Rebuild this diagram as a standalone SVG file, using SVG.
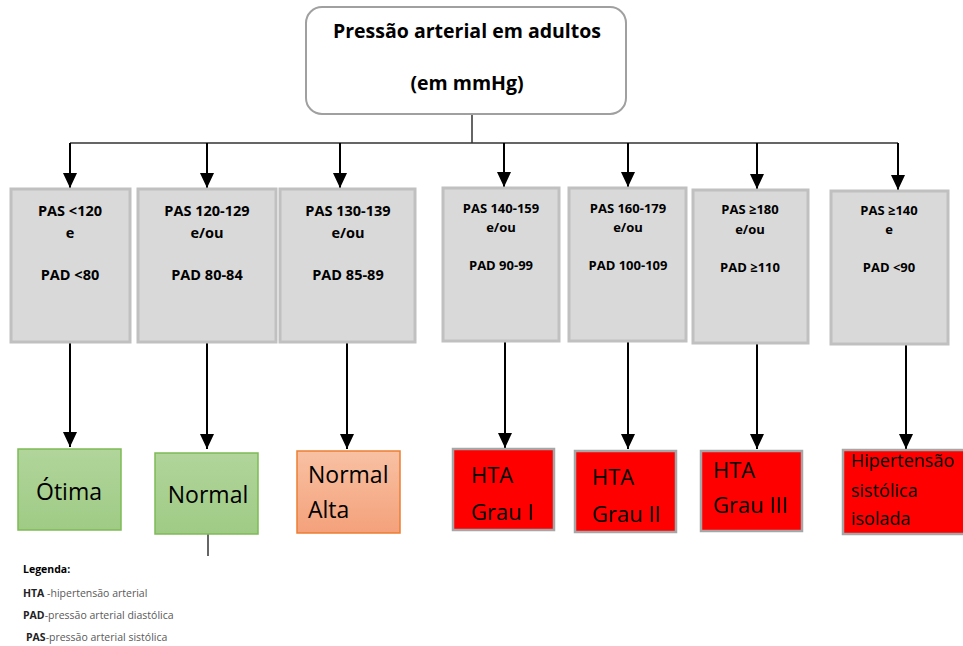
<svg xmlns="http://www.w3.org/2000/svg" width="963" height="646" viewBox="0 0 963 646">
<defs>
<marker id="ah" markerUnits="userSpaceOnUse" markerWidth="16" markerHeight="14" refX="15" refY="7" orient="auto" viewBox="0 0 16 14">
<path d="M0,0 L15,7 L0,14 Z" fill="#000"/>
</marker>
<linearGradient id="gGreen" x1="0" y1="0" x2="0" y2="1"><stop offset="0" stop-color="#b1d59b"/><stop offset="1" stop-color="#9fcb85"/></linearGradient>
<linearGradient id="gOrange" x1="0" y1="0" x2="0" y2="1"><stop offset="0" stop-color="#f8c1a3"/><stop offset="1" stop-color="#f4a17b"/></linearGradient>
<style>
.t{font-family:"Open Sans","Liberation Sans",sans-serif;fill:#000}
.b{font-weight:bold}
.gray{fill:#d9d9d9;stroke:#c0c0c0;stroke-width:3}
.red{fill:#ff0000;stroke:#a6a6a6;stroke-width:2.5}
.green{fill:url(#gGreen);stroke:#7dbb55;stroke-width:1.5}
.conn{stroke:#000;stroke-width:2;fill:none}
.bus{stroke:#333;stroke-width:1.5;fill:none}
.c{text-anchor:middle}
.s1{font-size:14.5px}
.s2{font-size:13px}
.big{font-size:23px}
.hta{font-size:22px}
.med{font-size:18px}
.leg{font-size:10.5px;fill:#595959}
</style>
</defs>
<rect width="963" height="646" fill="#fff"/>

<g id="root">
<rect x="306" y="7" width="320" height="107" rx="16" fill="#fff" stroke="#a0a0a0" stroke-width="2"/>
<text class="t b c" x="467" y="38" font-size="19.5">Pressão arterial em adultos</text>
<text class="t b c" x="467" y="90" font-size="19.5">(em mmHg)</text>
</g>

<g id="connectors">
<path class="bus" d="M472,115 V143 M70,143 H898"/>
<path class="conn" marker-end="url(#ah)" d="M70,143 V188"/>
<path class="conn" marker-end="url(#ah)" d="M207,143 V188"/>
<path class="conn" marker-end="url(#ah)" d="M340,143 V188"/>
<path class="conn" marker-end="url(#ah)" d="M504,143 V187"/>
<path class="conn" marker-end="url(#ah)" d="M628,143 V187"/>
<path class="conn" marker-end="url(#ah)" d="M757,143 V189"/>
<path class="conn" marker-end="url(#ah)" d="M898,143 V190"/>
<path class="conn" marker-end="url(#ah)" d="M70,343 V447"/>
<path class="conn" marker-end="url(#ah)" d="M207,343 V449"/>
<path class="conn" marker-end="url(#ah)" d="M347,343 V449"/>
<path class="conn" marker-end="url(#ah)" d="M505,342 V448"/>
<path class="conn" marker-end="url(#ah)" d="M628,342 V449"/>
<path class="conn" marker-end="url(#ah)" d="M757,343 V449"/>
<path class="conn" marker-end="url(#ah)" d="M906,342 V449"/>
<path d="M208,524 V556" stroke="#333" stroke-width="1.5"/>
</g>

<g id="c1">
<rect class="gray" x="11" y="189" width="119" height="153"/>
<text class="t b c s1" x="70" y="216">PAS &lt;120</text>
<text class="t b c s1" x="70" y="238">e</text>
<text class="t b c s1" x="70" y="280">PAD &lt;80</text>
</g>
<g id="c2">
<rect class="gray" x="138" y="189" width="138" height="153"/>
<text class="t b c s1" x="207" y="216">PAS 120-129</text>
<text class="t b c s1" x="207" y="238">e/ou</text>
<text class="t b c s1" x="207" y="280">PAD 80-84</text>
</g>
<g id="c3">
<rect class="gray" x="280" y="189" width="135" height="153"/>
<text class="t b c s1" x="348" y="216">PAS 130-139</text>
<text class="t b c s1" x="348" y="238">e/ou</text>
<text class="t b c s1" x="348" y="280">PAD 85-89</text>
</g>
<g id="c4">
<rect class="gray" x="443" y="188" width="116" height="153"/>
<text class="t b c s2" x="501" y="213">PAS 140-159</text>
<text class="t b c s2" x="501" y="232">e/ou</text>
<text class="t b c s2" x="501" y="270">PAD 90-99</text>
</g>
<g id="c5">
<rect class="gray" x="569" y="188" width="117" height="153"/>
<text class="t b c s2" x="628" y="213">PAS 160-179</text>
<text class="t b c s2" x="628" y="232">e/ou</text>
<text class="t b c s2" x="628" y="270">PAD 100-109</text>
</g>
<g id="c6">
<rect class="gray" x="693" y="190" width="115" height="153"/>
<text class="t b c s2" x="750" y="214">PAS ≥180</text>
<text class="t b c s2" x="750" y="234">e/ou</text>
<text class="t b c s2" x="750" y="272">PAD ≥110</text>
</g>
<g id="c7">
<rect class="gray" x="831" y="191" width="117" height="153"/>
<text class="t b c s2" x="889" y="215">PAS ≥140</text>
<text class="t b c s2" x="889" y="234">e</text>
<text class="t b c s2" x="889" y="272">PAD &lt;90</text>
</g>

<g id="otima">
<rect class="green" x="18" y="449" width="103" height="81"/>
<text class="t c big" x="69" y="500">Ótima</text>
</g>
<g id="normal">
<rect class="green" x="155" y="453" width="103" height="81"/>
<text class="t c big" x="208" y="503">Normal</text>
</g>
<g id="normalalta">
<rect x="297" y="451" width="103" height="82" fill="url(#gOrange)" stroke="#ed7d31" stroke-width="1.5"/>
<text class="t big" x="308" y="483">Normal</text>
<text class="t big" x="308" y="518">Alta</text>
</g>
<g id="g1">
<rect class="red" x="453" y="449" width="101" height="81"/>
<text class="t hta" x="471" y="483">HTA</text>
<text class="t hta" x="471" y="520">Grau I</text>
</g>
<g id="g2">
<rect class="red" x="575" y="451" width="101" height="81"/>
<text class="t hta" x="592" y="485">HTA</text>
<text class="t hta" x="592" y="522">Grau II</text>
</g>
<g id="g3">
<rect class="red" x="701" y="451" width="101" height="80"/>
<text class="t hta" x="713" y="478">HTA</text>
<text class="t hta" x="713" y="513">Grau III</text>
</g>
<g id="hsi">
<rect class="red" x="843" y="450" width="126" height="84"/>
<text class="t med" x="851" y="467">Hipertensão</text>
<text class="t med" x="851" y="497">sistólica</text>
<text class="t med" x="851" y="525">isolada</text>
</g>

<g id="legend">
<text class="t b" x="23" y="573" font-size="10.5" fill="#222">Legenda:</text>
<text class="t leg" x="23" y="597"><tspan class="b" fill="#222">HTA</tspan> -hipertensão arterial</text>
<text class="t leg" x="23" y="619"><tspan class="b" fill="#222">PAD</tspan>-pressão arterial diastólica</text>
<text class="t leg" x="26" y="641"><tspan class="b" fill="#222">PAS</tspan>-pressão arterial sistólica</text>
</g>
</svg>
